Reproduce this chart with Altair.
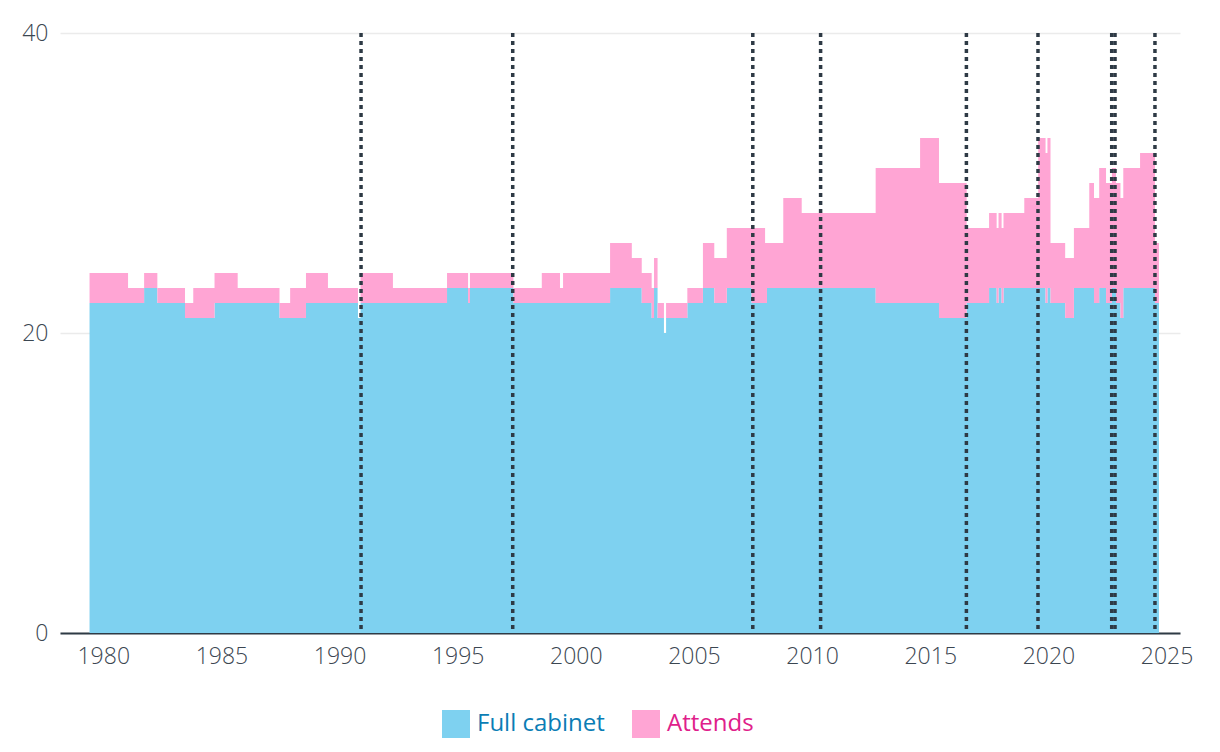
import altair as alt
import pandas as pd

# change points (decimal years) of the monthly series
years = [1979.42, 1981.05, 1981.73, 1982.29, 1983.46, 1983.81, 1984.71, 1985.69, 1987.46, 1987.91,
         1988.58, 1989.51, 1990.78, 1990.89, 1992.26, 1994.55, 1995.44, 1995.52, 1997.36, 1998.56,
         1999.33, 1999.46, 2001.45, 2002.37, 2002.79, 2003.21, 2003.31, 2003.46, 2003.73, 2003.82,
         2004.72, 2005.38, 2005.86, 2006.39, 2007.44, 2008.01, 2008.09, 2008.78, 2009.56, 2012.69,
         2014.57, 2015.37, 2016.54, 2017.49, 2017.81, 2017.89, 2018.02, 2018.10, 2018.98, 2019.57,
         2019.88, 2019.96, 2020.09, 2020.71, 2021.08, 2021.73, 2021.93, 2022.15, 2022.44, 2022.69,
         2022.86, 2023.05, 2023.17, 2023.88, 2024.51, 2024.68]
full_cabinet = [22, 22, 23, 22, 21, 21, 22, 22, 21, 21,
                22, 22, 21, 22, 22, 23, 22, 23, 22, 22,
                22, 22, 23, 23, 22, 21, 23, 21, 20, 21,
                22, 23, 22, 23, 22, 22, 23, 23, 23, 22,
                22, 21, 22, 23, 22, 23, 22, 23, 23, 23,
                22, 23, 22, 21, 23, 23, 22, 23, 22, 23,
                22, 21, 23, 23, 22, 22]
attends = [2, 1, 1, 1, 1, 2, 2, 1, 1, 2,
           2, 1, 0, 2, 1, 1, 1, 1, 1, 2,
           1, 2, 3, 2, 2, 2, 2, 1, 0, 1,
           1, 3, 3, 4, 5, 4, 3, 6, 5, 9,
           11, 9, 5, 5, 5, 5, 5, 5, 6, 10,
           10, 10, 4, 4, 4, 7, 7, 8, 8, 8,
           8, 8, 8, 9, 4, 4]

# changes of prime minister
pm_changes = [1990.91, 1997.33, 2007.49, 2010.36, 2016.53, 2019.56, 2022.68, 2022.82, 2024.51]

x_ticks = [1980, 1985, 1990, 1995, 2000, 2005, 2010, 2015, 2020, 2025]
y_ticks = [0, 20, 40]

BLUE = "#7ed1f0"
PINK = "#ffa5d4"
BLUE_TXT = "#0b7db5"
PINK_TXT = "#e0208a"
DARK = "#2e3a45"
LABEL = "#3b4651"
FONT = "Open Sans"

df = pd.DataFrame({"year": years, "full": full_cabinet, "attends": attends})
df["total"] = df["full"] + df["attends"]
df_full = df.assign(series="Full cabinet")
df_att = df.assign(series="Attends")

xscale = alt.Scale(domain=[1978.17, 2025.57], nice=False, zero=False)
yscale = alt.Scale(domain=[0, 40], nice=False)

xaxis = alt.Axis(values=x_ticks, format="d", title=None, grid=False, ticks=False, tickSize=0,
                 domainColor=DARK, domainWidth=2, labelFontSize=23, labelColor=LABEL,
                 labelFont=FONT, labelFontWeight=300, labelPadding=12)
yaxis = alt.Axis(values=y_ticks, title=None, grid=True, gridColor="#ebebeb", gridWidth=1.5,
                 domain=False, ticks=False, tickSize=0, labelFontSize=23, labelColor=LABEL,
                 labelFont=FONT, labelFontWeight=300, labelPadding=12)

def legend(x, color):
    return alt.Legend(orient="none", legendX=x, legendY=677, title=None, symbolType="square",
                      symbolSize=784, symbolStrokeWidth=0, symbolOpacity=1, labelFontSize=24,
                      labelFont=FONT, labelColor=color, labelOffset=7, padding=0)

full_area = alt.Chart(df_full).mark_area(interpolate="step-after", opacity=1).encode(
    x=alt.X("year:Q", scale=xscale, axis=xaxis),
    y=alt.Y("full:Q", scale=yscale, axis=yaxis),
    color=alt.Color("series:N", scale=alt.Scale(domain=["Full cabinet"], range=[BLUE]),
                    legend=legend(382, BLUE_TXT)),
)

att_area = alt.Chart(df_att).mark_area(interpolate="step-after", opacity=1).encode(
    x=alt.X("year:Q", scale=xscale),
    y=alt.Y("total:Q", scale=yscale),
    y2="full:Q",
    color=alt.Color("series:N", scale=alt.Scale(domain=["Attends"], range=[PINK]),
                    legend=legend(572, PINK_TXT)),
)

rules = alt.Chart(pd.DataFrame({"year": pm_changes})).mark_rule(
    color=DARK, strokeWidth=3.5, strokeDash=[4, 4]
).encode(x=alt.X("year:Q", scale=xscale))

chart = alt.layer(full_area, att_area, rules).resolve_scale(color="independent").properties(
    width=1120, height=600,
    autosize=alt.AutoSizeParams(type="none"),
    padding={"left": 60, "top": 33, "right": 40, "bottom": 119},
).configure(font=FONT).configure_view(stroke=None)

chart.save("out.html", embed_options={"renderer": "svg", "actions": False})
